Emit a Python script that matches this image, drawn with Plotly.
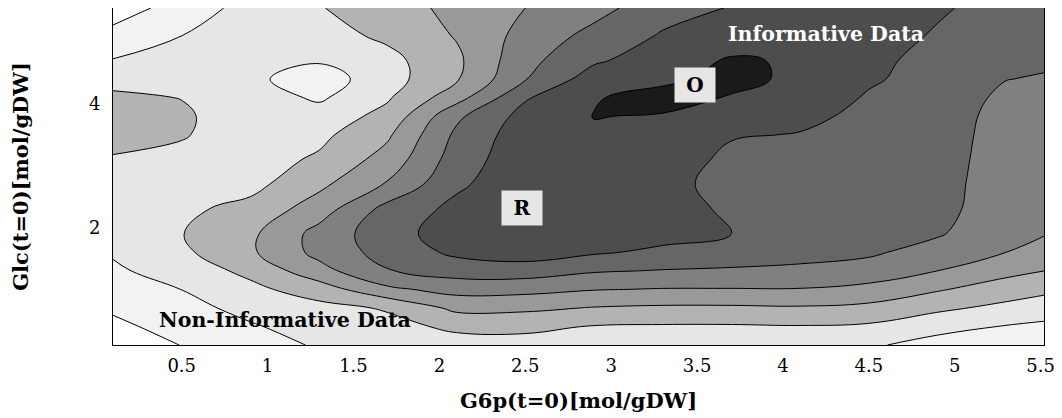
import plotly.graph_objects as go

# grid of G6p values (x) and Glc values (y)
g6p = [0.1, 0.5, 0.9, 1.3, 1.7, 2.1, 2.5, 2.9, 3.3, 3.7, 4.1, 4.5, 4.9, 5.3, 5.55]
glc = [0.1, 0.4, 0.7, 1.0, 1.3, 1.6, 1.9, 2.3, 2.7, 3.1, 3.5, 3.8, 4.1, 4.4, 4.7, 5.1, 5.55]

# information level, one list per G6p column (bottom to top in Glc)
col_0_1 = [0.0, 0.29, 0.64, 0.99, 1.34, 1.6, 1.75, 1.98, 2.2, 2.45, 2.7, 2.78, 2.65, 2.25, 1.55, 0.85, -0.05]
col_0_5 = [0.52, 0.85, 1.18, 1.51, 1.95, 2.3, 2.47, 2.3, 2.15, 2.3, 2.56, 2.62, 2.48, 2.15, 1.85, 1.5, 0.95]
col_0_9 = [1.1, 1.4, 1.8, 2.25, 2.75, 3.35, 3.3, 2.8, 2.2, 2.05, 2.1, 2.05, 2.0, 1.7, 1.9, 1.88, 1.85]
col_1_3 = [1.6, 1.94, 2.2, 3.0, 4.15, 4.8, 4.85, 4.0, 3.27, 2.65, 2.25, 1.95, 1.35, 1.0, 1.6, 2.1, 2.45]
col_1_7 = [1.9, 2.2, 2.6, 4.3, 5.45, 5.9, 6.1, 5.85, 4.6, 3.9, 3.35, 2.8, 2.4, 2.1, 2.2, 2.7, 3.0]
col_2_1 = [2.1, 2.7, 3.75, 4.85, 5.95, 6.7, 7.0, 6.75, 6.33, 5.98, 5.7, 5.3, 4.1, 3.4, 3.3, 3.57, 3.8]
col_2_5 = [2.1, 2.75, 3.7, 4.8, 6.0, 7.0, 7.05, 7.1, 7.15, 7.15, 7.05, 6.85, 6.4, 5.45, 5.2, 4.85, 4.5]
col_2_9 = [2.2, 2.45, 3.45, 4.55, 5.6, 6.62, 7.0, 7.15, 7.25, 7.3, 7.4, 7.52, 7.45, 7.0, 6.35, 5.8, 5.15]
col_3_3 = [2.25, 2.4, 3.35, 4.45, 5.45, 6.3, 6.85, 7.0, 6.95, 7.2, 7.35, 7.45, 7.75, 7.35, 7.05, 6.6, 6.1]
col_3_7 = [2.2, 2.4, 3.35, 4.45, 5.4, 5.95, 6.5, 6.3, 6.0, 6.2, 6.6, 7.0, 7.45, 7.7, 7.6, 7.0, 6.55]
col_4_1 = [2.1, 2.45, 3.4, 4.45, 5.35, 5.75, 5.9, 6.0, 6.05, 6.15, 6.45, 6.75, 7.0, 7.35, 7.4, 7.2, 7.0]
col_4_5 = [1.65, 2.35, 3.25, 4.2, 5.1, 5.65, 5.8, 5.9, 5.95, 6.0, 6.1, 6.25, 6.42, 6.6, 6.65, 6.85, 6.9]
col_4_9 = [1.1, 1.85, 2.7, 3.6, 4.5, 5.1, 5.6, 5.8, 5.85, 5.9, 5.95, 6.0, 6.1, 6.2, 6.3, 6.42, 6.6]
col_5_3 = [0.9, 1.45, 2.25, 3.0, 3.8, 4.5, 4.8, 4.95, 5.0, 5.05, 5.1, 5.15, 5.28, 5.52, 5.75, 6.0, 6.2]
col_5_55 = [1.05, 1.3, 1.95, 2.7, 3.48, 4.0, 4.5, 4.75, 4.85, 4.9, 4.95, 5.05, 5.18, 5.4, 5.65, 5.9, 6.1]

columns = [col_0_1, col_0_5, col_0_9, col_1_3, col_1_7, col_2_1, col_2_5, col_2_9,
           col_3_3, col_3_7, col_4_1, col_4_5, col_4_9, col_5_3, col_5_55]
z = [[columns[j][i] for j in range(len(g6p))] for i in range(len(glc))]

band_colors = ["#ffffff", "#f2f2f2", "#e6e6e6", "#b3b3b3", "#999999",
               "#808080", "#666666", "#4d4d4d", "#1a1a1a"]
colorscale = [[k / 8, c] for k, c in enumerate(band_colors)]

x_ticks = [0.5, 1, 1.5, 2, 2.5, 3, 3.5, 4, 4.5, 5, 5.5]
y_ticks = [2, 4]

fig = go.Figure(go.Contour(
    x=g6p, y=glc, z=z,
    colorscale=colorscale, showscale=False,
    contours=dict(start=0.5, end=7.5, size=1, coloring="fill"),
    line=dict(color="black", width=1, smoothing=1.15),
    hoverinfo="skip",
))

serif = "DejaVu Serif"
# the page body adds an 8 px margin, so the figure is sized and offset for it
fig.update_layout(
    width=1054, height=410,
    margin=dict(l=105, r=18, t=0, b=73),
    paper_bgcolor="white", plot_bgcolor="white",
    font=dict(family=serif, color="black"),
    xaxis=dict(range=[0.1, 5.52], tickvals=x_ticks, ticktext=[str(v) for v in x_ticks],
               showgrid=False, zeroline=False, showline=True, mirror=True,
               linecolor="black", linewidth=1, ticks="", ticklabelstandoff=4,
               tickfont=dict(size=18, family=serif),
               title=dict(text="<b>G6p(t=0)[mol/gDW]</b>", font=dict(size=21, family=serif), standoff=18)),
    yaxis=dict(range=[0.1, 5.55], tickvals=y_ticks, ticktext=[str(v) for v in y_ticks],
               showgrid=False, zeroline=False, showline=True, mirror=True,
               linecolor="black", linewidth=1, ticks="", ticklabelstandoff=8,
               tickfont=dict(size=18, family=serif),
               title=dict(text="<b>Glc(t=0)[mol/gDW]</b>", font=dict(size=21, family=serif), standoff=55)),
    annotations=[
        dict(x=3.49, y=4.31, text="<b>O</b>", showarrow=False, bgcolor="#e6e6e6",
             width=30, height=24, borderpad=5, font=dict(size=20, family=serif, color="black")),
        dict(x=2.48, y=2.31, text="<b>R</b>", showarrow=False, bgcolor="#e6e6e6",
             width=30, height=24, borderpad=5, font=dict(size=20, family=serif, color="black")),
        dict(x=4.25, y=5.13, text="<b>Informative Data</b>", showarrow=False,
             font=dict(size=20.5, family=serif, color="white")),
        dict(x=1.1, y=0.5, text="<b>Non-Informative Data</b>", showarrow=False,
             font=dict(size=20.5, family=serif, color="black")),
    ],
)

fig.write_html("out.html")
